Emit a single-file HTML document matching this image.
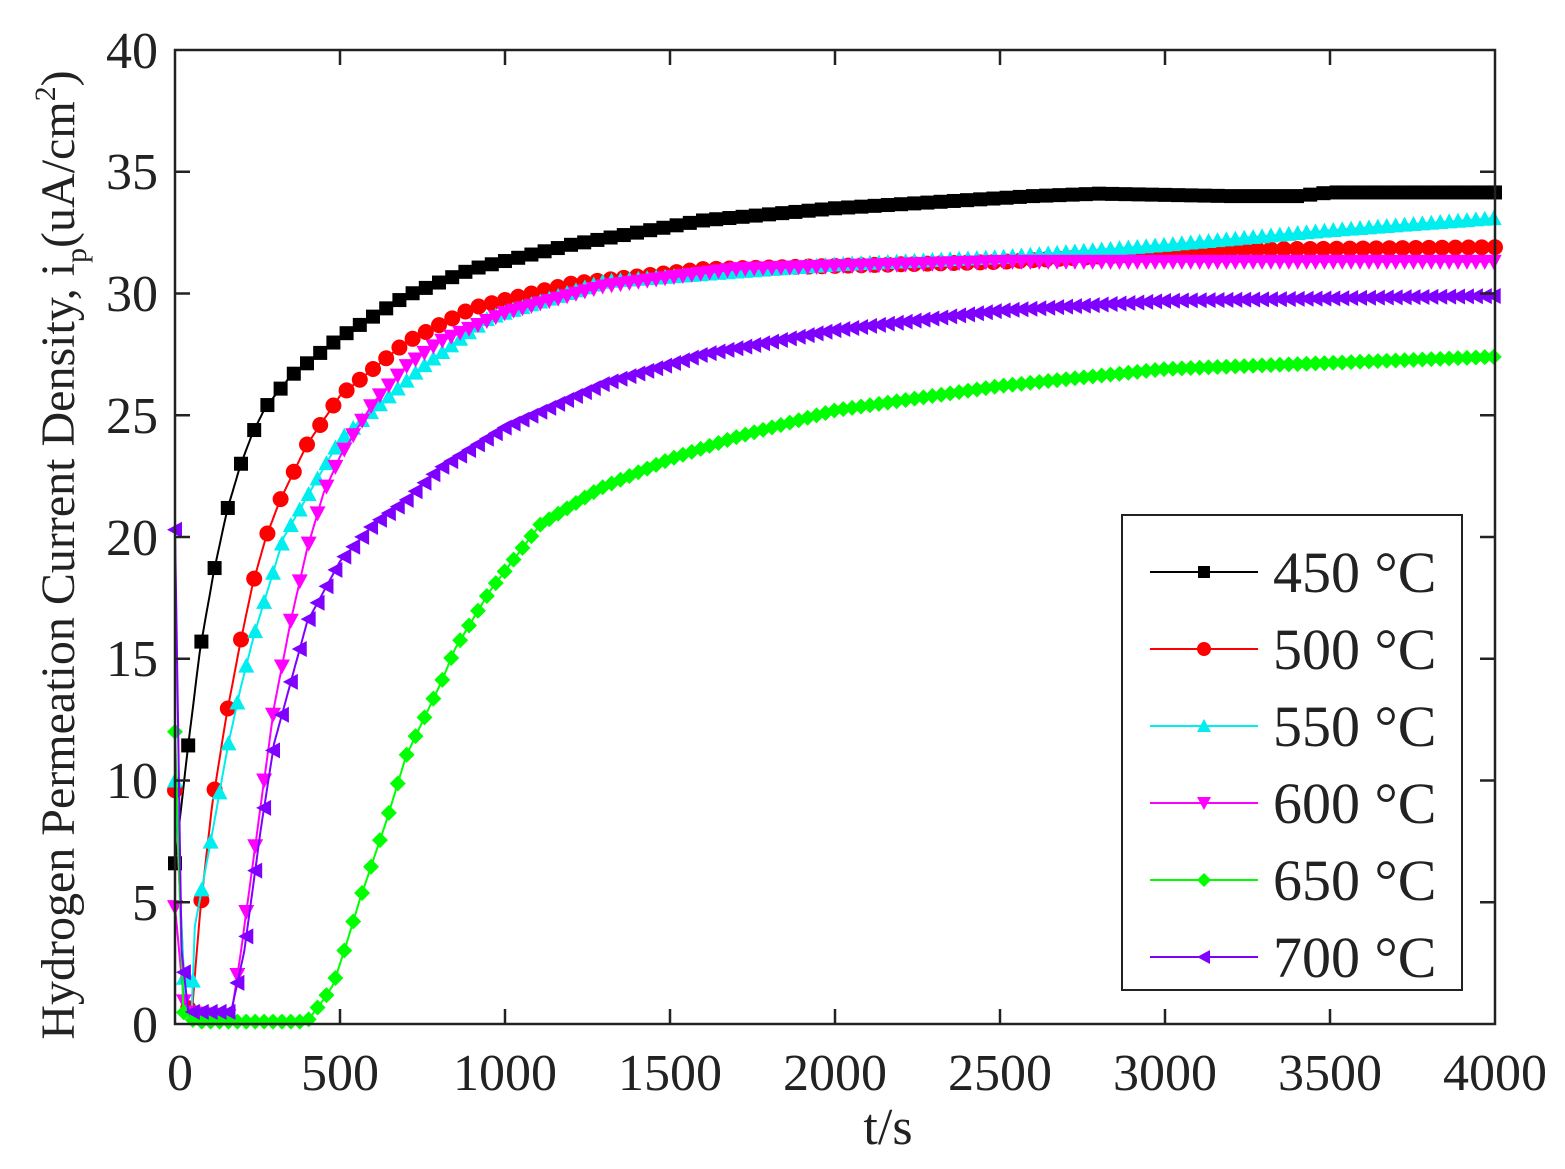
<!DOCTYPE html>
<html><head><meta charset="utf-8"><style>
body{margin:0;background:#fff;}
svg text{font-family:"Liberation Serif",serif;fill:#222;}
</style></head><body>
<svg id="s" width="1565" height="1164" xmlns="http://www.w3.org/2000/svg">
<rect x="0" y="0" width="1565" height="1164" fill="#fff"/>
<g id="data"></g>
<rect x="175" y="50" width="1320" height="974" fill="none" stroke="#222" stroke-width="2.5"/>
<g id="ticks" stroke="#222" stroke-width="2.5"></g>
<g font-size="52" text-anchor="end">
<text x="158" y="1042">0</text><text x="158" y="920">5</text><text x="158" y="798">10</text><text x="158" y="676">15</text><text x="158" y="555">20</text><text x="158" y="433">25</text><text x="158" y="311">30</text><text x="158" y="189">35</text><text x="158" y="68">40</text>
</g>
<g font-size="52" text-anchor="middle">
<text x="180" y="1090">0</text><text x="340" y="1090">500</text><text x="505" y="1090">1000</text><text x="670" y="1090">1500</text><text x="835" y="1090">2000</text><text x="1000" y="1090">2500</text><text x="1165" y="1090">3000</text><text x="1330" y="1090">3500</text><text x="1495" y="1090">4000</text>
<text x="888" y="1144">t/s</text>
</g>
<text font-size="48" text-anchor="middle" transform="translate(74,555) rotate(-90)">Hydrogen Permeation Current Density, i<tspan font-size="30" dy="12">p</tspan><tspan dy="-12">(uA/cm</tspan><tspan font-size="30" dy="-19">2</tspan><tspan dy="19">)</tspan></text>
<rect x="1122" y="515" width="340" height="475" fill="#fff" stroke="#222" stroke-width="2"/>
<g id="leg"></g>
</svg>
<script>
var X=t=>175+t*0.33, Y=v=>1024-v*24.35;
var NS="http://www.w3.org/2000/svg";
function el(n,a,p){var e=document.createElementNS(NS,n);for(var k in a)e.setAttribute(k,a[k]);p.appendChild(e);return e;}
var tk=document.getElementById('ticks');
for(var i=1;i<8;i++){el('line',{x1:X(i*500),x2:X(i*500),y1:1024,y2:1009},tk);el('line',{x1:X(i*500),x2:X(i*500),y1:50,y2:65},tk);}
for(var i=1;i<8;i++){el('line',{x1:175,x2:190,y1:Y(i*5),y2:Y(i*5)},tk);el('line',{x1:1495,x2:1480,y1:Y(i*5),y2:Y(i*5)},tk);}
var S=[
{c:'#000',m:'sq',dt:40,k:[[0,6.6],[36,11],[76,15.4],[118,18.6],[158,21.1],[197,22.9],[233,24.2],[273,25.3],[350,26.6],[500,28.2],[700,29.9],[900,31],[1200,32],[1600,33],[2000,33.5],[2600,34],[2800,34.1],[3200,34],[3400,34],[3500,34.15],[4000,34.15]]},
{c:'#f00',m:'ci',dt:40,k:[[0,9.6],[30,1],[50,0.3],[76,4.6],[112,8.95],[155,12.6],[197,15.6],[236,18.1],[276,20],[318,21.5],[400,23.8],[500,25.8],[700,28],[900,29.4],[1200,30.4],[1600,31],[2500,31.3],[3200,31.8],[4000,31.9]]},
{c:'#0ee',m:'up',dt:27,k:[[0,10],[30,1],[50,0.3],[60,4],[115,8],[160,11.4],[197,13.7],[240,16],[330,20],[500,24],[750,27],[950,29],[1300,30.5],[2000,31.2],[2500,31.5],[3000,32],[3500,32.6],[4000,33.1]]},
{c:'#f0f',m:'dn',dt:27,k:[[0,4.8],[30,0.5],[170,0.3],[200,3],[250,8],[300,13],[350,16.5],[400,19.5],[450,21.8],[500,23.3],[600,25.5],[700,27],[800,28],[1000,29.2],[1300,30.3],[1700,31],[2500,31.3],[4000,31.3]]},
{c:'#0f0',m:'di',dt:27,k:[[0,12],[25,0.5],[60,0.1],[400,0.1],[450,1],[479,1.6],[515,3.1],[560,5.1],[600,6.7],[642,8.4],[700,11],[809,14.1],[848,15.4],[955,17.8],[1106,20.5],[1288,22],[1500,23.2],[1700,24.1],[2000,25.2],[2500,26.2],[3000,26.9],[4000,27.4]]},
{c:'#7f00ff',m:'lt',dt:27,k:[[0,20.3],[20,3],[40,0.5],[170,0.5],[210,3],[260,8],[300,11.5],[350,14],[400,16.5],[500,19],[600,20.5],[700,21.5],[800,22.8],[1000,24.5],[1300,26.3],[1600,27.5],[2000,28.5],[2500,29.3],[3000,29.7],[4000,29.9]]}
];
function f(k,t){for(var i=1;i<k.length;i++)if(t<=k[i][0]){var a=k[i-1],b=k[i];return a[1]+(b[1]-a[1])*(t-a[0])/(b[0]-a[0]);}return k[k.length-1][1];}
function mk(m,x,y,c,p,r){r=r||7;
if(m=='sq')el('rect',{x:x-r,y:y-r,width:2*r,height:2*r,fill:c},p);
else if(m=='ci')el('circle',{cx:x,cy:y,r:r+1,fill:c},p);
else{var pts;if(m=='up')pts=[[x,y-r-1],[x+r+1,y+r],[x-r-1,y+r]];else if(m=='dn')pts=[[x,y+r+1],[x+r+1,y-r],[x-r-1,y-r]];else if(m=='lt')pts=[[x-r-1,y],[x+r,y-r-1],[x+r,y+r+1]];else pts=[[x,y-r-1],[x+r+1,y],[x,y+r+1],[x-r-1,y]];
el('polygon',{points:pts.map(q=>q.join(',')).join(' '),fill:c},p);}}
var g=document.getElementById('data');
S.forEach(function(s){var d='';for(var t=0;t<=4000;t+=5){d+=(t?'L':'M')+X(t).toFixed(1)+','+Y(f(s.k,t)).toFixed(1);}
el('path',{d:d,fill:'none',stroke:s.c,'stroke-width':2},g);
for(var t=0;t<=4000;t+=s.dt)mk(s.m,X(t),Y(f(s.k,t)),s.c,g);});
var L=document.getElementById('leg'),names=['450','500','550','600','650','700'];
S.forEach(function(s,i){var y=572+i*77;el('line',{x1:1150,x2:1258,y1:y,y2:y,stroke:s.c,'stroke-width':2},L);mk(s.m,1204,y,s.c,L,6);
var t=el('text',{x:1273,y:y+20,'font-size':58},L);t.textContent=names[i]+' \u00B0C';});
</script>
</body></html>
